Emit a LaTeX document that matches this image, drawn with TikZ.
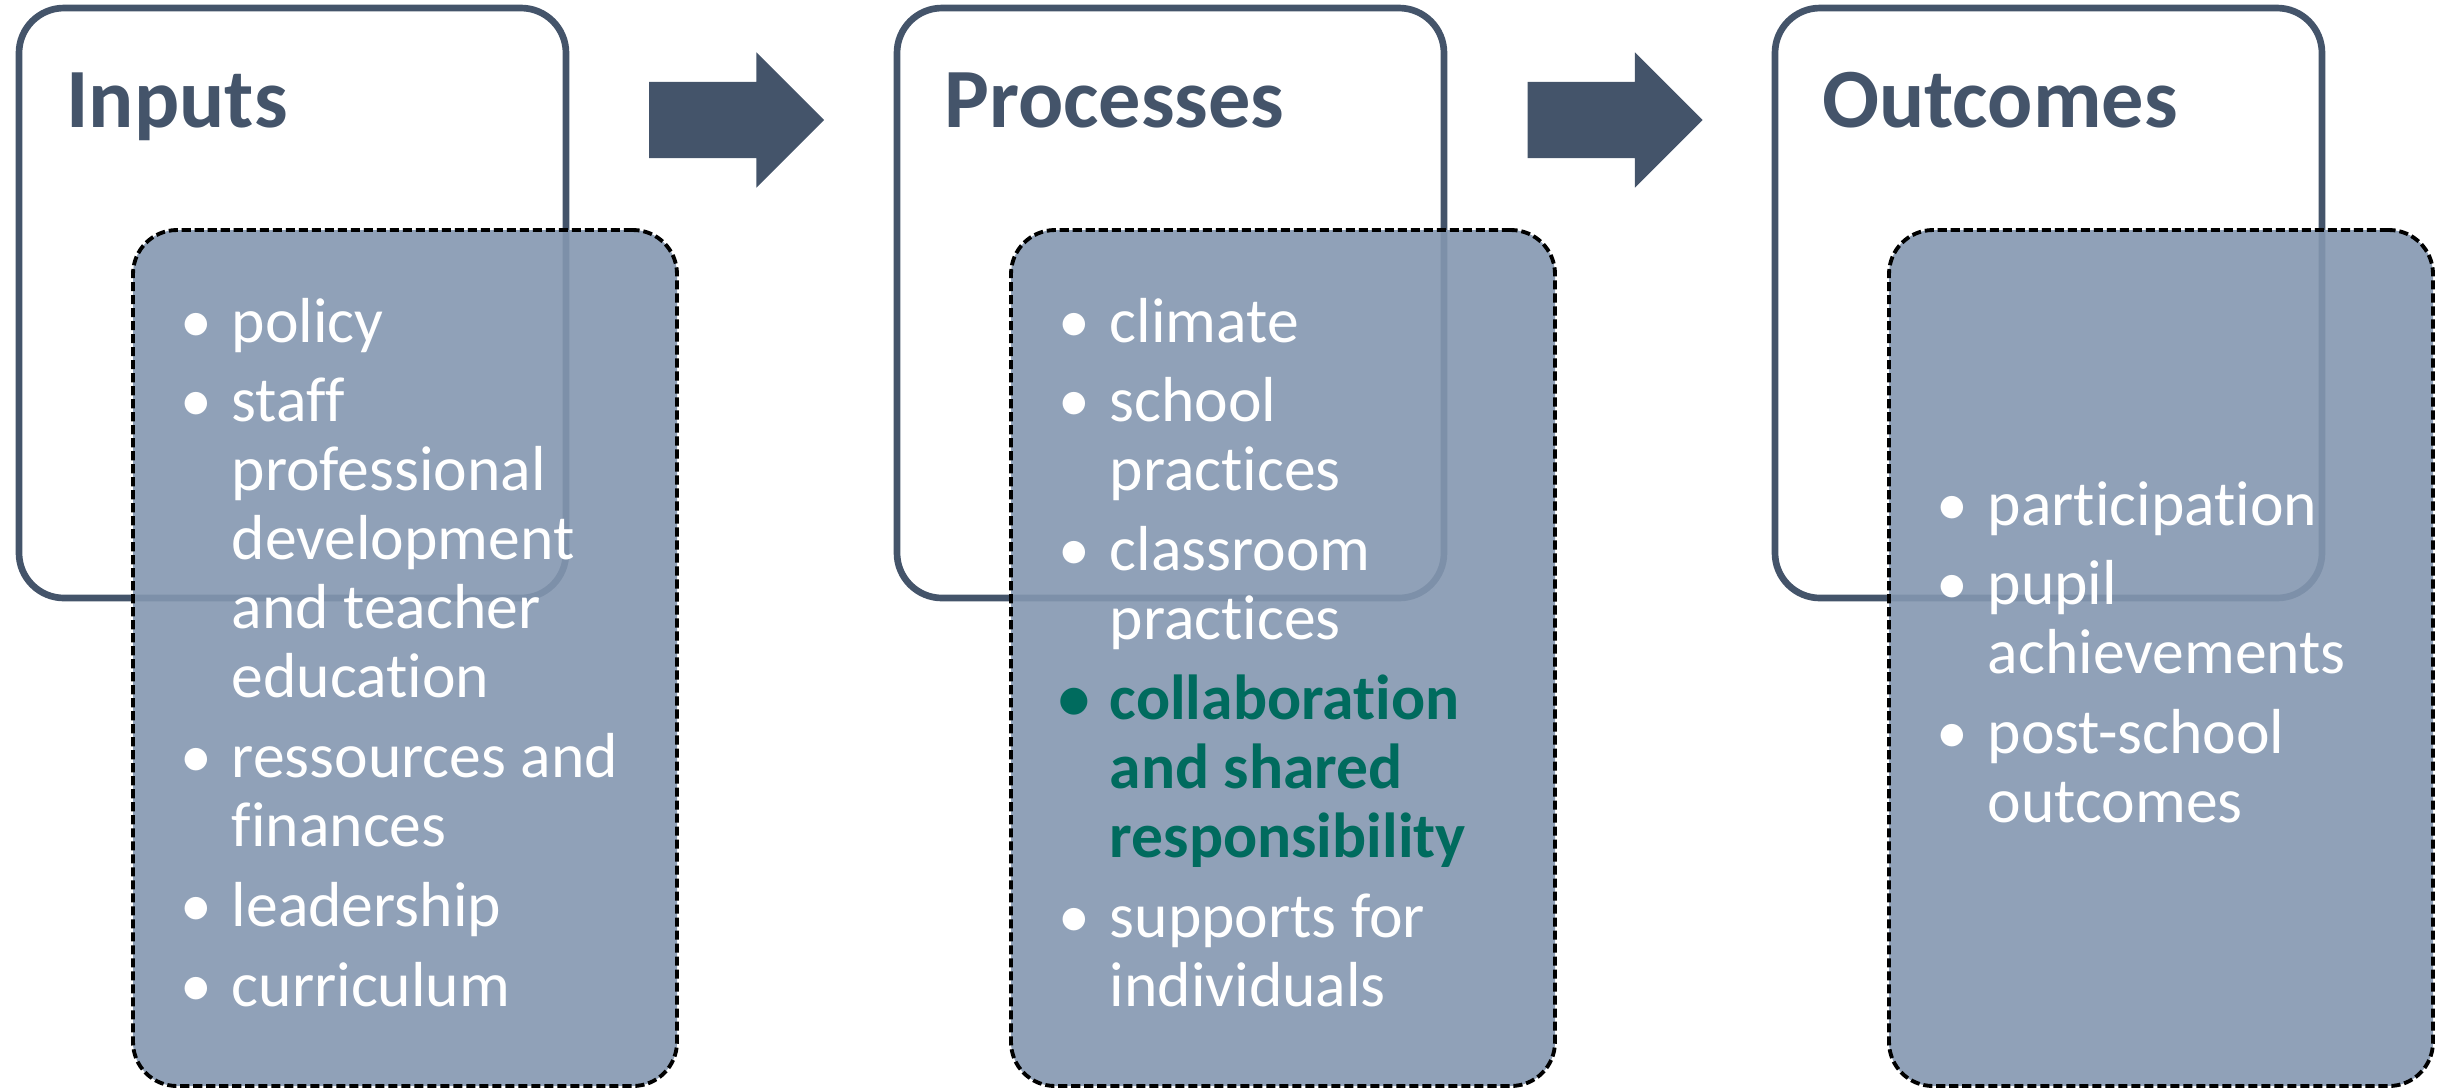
\documentclass[tikz,border=0pt]{standalone}
\usepackage{fontspec}
\setmainfont{Carlito}[Ligatures=NoCommon]
\usetikzlibrary{positioning,shapes.arrows}
\definecolor{slate}{HTML}{44546A}
\definecolor{panel}{HTML}{8497B0}
\definecolor{sharedgreen}{HTML}{006B5E}
\newcommand{\bul}{\makebox[7mm][c]{\textbullet}}
\newcommand{\hl}[1]{\textcolor{sharedgreen}{\bfseries #1}}
\begin{document}
\begin{tikzpicture}
    [
      x=0.1mm, y=-0.1mm,
      stage/.style = {draw=slate, line width=1.9pt, rounded corners=4.5mm,
        minimum width=54.7mm, minimum height=59mm, inner sep=0},
      panelbox/.style = {draw=black, line width=1.1pt, dash pattern=on 2.6pt off 1.1pt,
        fill=panel, fill opacity=0.9, rounded corners=4.4mm,
        minimum width=54.4mm, minimum height=85.6mm, inner sep=0},
      title/.style = {anchor=base west, inner sep=0, text=slate,
        font=\fontsize{24}{28}\selectfont\bfseries},
      items/.style = {anchor=base west, inner sep=0, text=white,
        font=\fontsize{18.1}{19.6}\selectfont},
      flowarrow/.style = {single arrow, fill=slate, draw=none,
        inner xsep=0, inner ysep=3.75mm, minimum height=17.5mm,
        single arrow head extend=2.95mm, single arrow tip angle=90},
    ]
    \useasboundingbox (0,0) rectangle (2450,1089);

    % frames
    \node[stage] (inputs) at (292.5,303) {};
    \node[stage] (processes) at (1170.5,303) {};
    \node[stage] (outcomes) at (2048.5,303) {};

    \node[title] (inputstitle) at ([xshift=5mm,yshift=-12.3mm]inputs.north west) {Inputs};
    \node[title] (processestitle) at ([xshift=5mm,yshift=-12.3mm]processes.north west) {Processes};
    \node[title] (outcomestitle) at ([xshift=5mm,yshift=-12.3mm]outcomes.north west) {Outcomes};

    % block arrows
    \node[flowarrow] (arrowone) at (717.5,120) {};
    \node[flowarrow] (arrowtwo) at (1596,120) {};

    % lists
    \node[panelbox] (inputspanel) at (405,658) {};
    \node[panelbox] (processespanel) at (1283,658) {};
    \node[panelbox] (outcomespanel) at (2161,658) {};

    \node[items] (inputslist) at ([xshift=3mm,yshift=-11.4mm]inputspanel.north west) {%
      \begin{tabular}[t]{@{}l@{}l@{}}
        \bul & policy\\[1.1mm]
        \bul & staff\\
             & professional\\
             & development\\
             & and teacher\\
             & education\\[1.1mm]
        \bul & ressources and\\
             & finances\\[1.1mm]
        \bul & leadership\\[1.1mm]
        \bul & curriculum
      \end{tabular}};
    \node[items] (processeslist) at ([xshift=3mm,yshift=-11.4mm]processespanel.north west) {%
      \begin{tabular}[t]{@{}l@{}l@{}}
        \bul & climate\\[1.1mm]
        \bul & school\\
             & practices\\[1.1mm]
        \bul & classroom\\
             & practices\\[1.1mm]
        \hl{\bul} & \hl{collaboration}\\
             & \hl{and shared}\\
             & \hl{responsibility}\\[1.1mm]
        \bul & supports for\\
             & individuals
      \end{tabular}};
    \node[items] (outcomeslist) at ([xshift=3mm,yshift=-29.7mm]outcomespanel.north west) {%
      \begin{tabular}[t]{@{}l@{}l@{}}
        \bul & participation\\[1.1mm]
        \bul & pupil\\
             & achievements\\[1.1mm]
        \bul & post-school\\
             & outcomes
      \end{tabular}};
  \end{tikzpicture}
\end{document}
